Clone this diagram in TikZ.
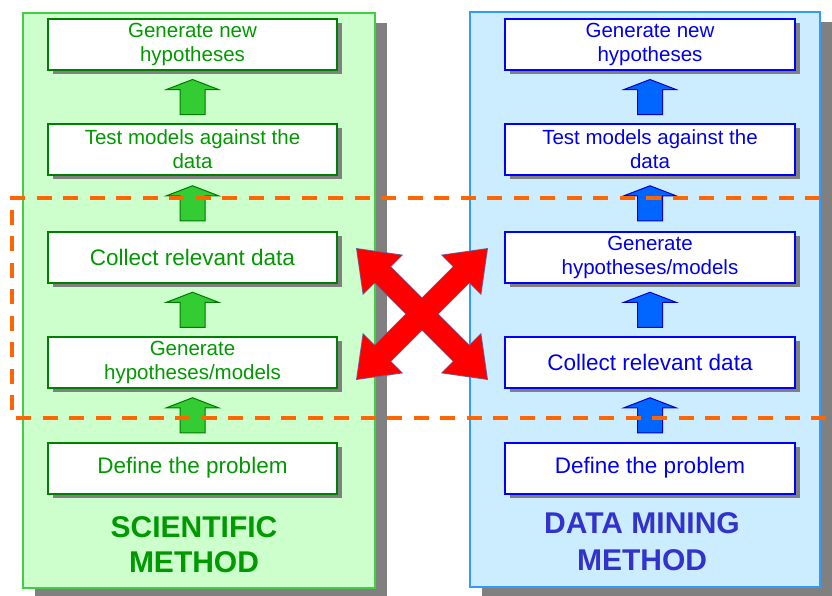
\documentclass[tikz,border=0pt]{standalone}
\usepackage{fontspec}
\setmainfont{Liberation Sans}
\usetikzlibrary{shadows,calc}

\definecolor{gPanelFill}{HTML}{CCFFCC}
\definecolor{gPanelLine}{HTML}{44CC44}
\definecolor{gBoxLine}{HTML}{008000}
\definecolor{gText}{HTML}{009A00}
\definecolor{gTitle}{HTML}{009900}
\definecolor{gArrowFill}{HTML}{33CC33}
\definecolor{gArrowLine}{HTML}{007A00}
\definecolor{bPanelFill}{HTML}{CCECFF}
\definecolor{bPanelLine}{HTML}{3399FF}
\definecolor{bBoxLine}{HTML}{0000FF}
\definecolor{bText}{HTML}{0000EE}
\definecolor{bTitle}{HTML}{3333CC}
\definecolor{bArrowFill}{HTML}{0066FF}
\definecolor{bArrowLine}{HTML}{0000CC}
\definecolor{shade}{HTML}{808080}
\definecolor{dashOrange}{HTML}{FF6600}
\definecolor{crossRed}{HTML}{FF0000}
\definecolor{crossEdge}{HTML}{66669A}

\tikzset{
  panel/.style={rectangle, inner sep=0pt, line width=1.5pt,
    minimum height=575pt,
    general shadow={shadow xshift=12pt, shadow yshift=-10pt, fill=shade, opacity=1}},
  sciPanel/.style={panel, fill=gPanelFill, draw=gPanelLine, minimum width=352pt},
  dmPanel/.style={panel, fill=bPanelFill, draw=bPanelLine, minimum width=350pt},
  stepbox/.style={rectangle, fill=white, line width=2pt, minimum height=51pt,
    inner sep=0pt, align=center,
    general shadow={shadow xshift=5pt, shadow yshift=-4pt, fill=shade, opacity=1}},
  sciBox/.style={stepbox, draw=gBoxLine, text=gText, minimum width=289pt},
  dmBox/.style={stepbox, draw=bBoxLine, text=bText, minimum width=290pt},
  oneLine/.style={font=\fontsize{22.5}{26}\selectfont},
  twoLines/.style={font=\fontsize{20.5}{24}\selectfont},
  title/.style={inner sep=0pt, align=center, font=\fontsize{30}{36}\selectfont\bfseries},
  greenUp/.style={fill=gArrowFill, draw=gArrowLine, line width=1pt},
  blueUp/.style={fill=bArrowFill, draw=bArrowLine, line width=1pt},
  upblock/.pic={
    \path[pic actions] (-12.5,17.5) -- (-12.5,-7.5) -- (-26,-7.5) -- (0,-17.5)
      -- (26,-7.5) -- (12.5,-7.5) -- (12.5,17.5) -- cycle;},
  dashframe/.style={draw=dashOrange, line width=4pt, dash pattern=on 15pt off 11.5pt},
  crossOutline/.style={draw=crossEdge, line width=1.6pt, line join=miter},
  crossBody/.style={fill=crossRed}
}

\begin{document}
\begin{tikzpicture}[x=1pt, y=-1pt]
\useasboundingbox (0,0) rectangle (832,595);

% the two method panels
\node[sciPanel] (sciBg) at (199,300.5) {};
\node[dmPanel]  (dmBg)  at (645,299.5) {};

% scientific method steps (bottom to top)
\node[sciBox, oneLine]  (s1) at (192.5,468)   {Define the problem};
\node[sciBox, twoLines] (s2) at (192.5,362.5) {Generate\\hypotheses/models};
\node[sciBox, oneLine]  (s3) at (192.5,257)   {Collect relevant data};
\node[sciBox, twoLines] (s4) at (192.5,149.5) {Test models against the\\data};
\node[sciBox, twoLines] (s5) at (192.5,44.5)  {Generate new\\hypotheses};

% data mining method steps (bottom to top)
\node[dmBox, oneLine]  (d1) at (650,468)   {Define the problem};
\node[dmBox, oneLine]  (d2) at (650,362.5) {Collect relevant data};
\node[dmBox, twoLines] (d3) at (650,257)   {Generate\\hypotheses/models};
\node[dmBox, twoLines] (d4) at (650,149.5) {Test models against the\\data};
\node[dmBox, twoLines] (d5) at (650,44.5)  {Generate new\\hypotheses};

% titles
\node[title, text=gTitle] (sciTitle) at (194,544.5) {SCIENTIFIC\\[-1pt]METHOD};
\node[title, text=bTitle] (dmTitle)  at (642,541.5) {DATA MINING\\[1pt]METHOD};

% block arrows between consecutive steps
\foreach \lo/\hi in {s1/s2, s2/s3, s3/s4, s4/s5}
  \pic[greenUp] at ($(\lo.north)!0.5!(\hi.south)$) {upblock};
\foreach \lo/\hi in {d1/d2, d2/d3, d3/d4, d4/d5}
  \pic[blueUp] at ($(\lo.north)!0.5!(\hi.south)$) {upblock};

% dashed frame around the swapped steps
\draw[dashframe] (10,198) -- (850,198);
\draw[dashframe, dash phase=15pt] (12,198) -- (12,418);
\draw[dashframe] (16,418) -- (850,418);

% red crossing double arrows
\coordinate (xc) at (422,314);
\foreach \a in {45,-45}
  \path[crossOutline, shift={(xc)}, rotate=\a]
    (-92,0) -- (-56,-27) -- (-56,-11) -- (56,-11) -- (56,-27) -- (92,0)
    -- (56,27) -- (56,11) -- (-56,11) -- (-56,27) -- cycle;
\foreach \a in {45,-45}
  \path[crossBody, shift={(xc)}, rotate=\a]
    (-92,0) -- (-56,-27) -- (-56,-11) -- (56,-11) -- (56,-27) -- (92,0)
    -- (56,27) -- (56,11) -- (-56,11) -- (-56,27) -- cycle;
\end{tikzpicture}
\end{document}
